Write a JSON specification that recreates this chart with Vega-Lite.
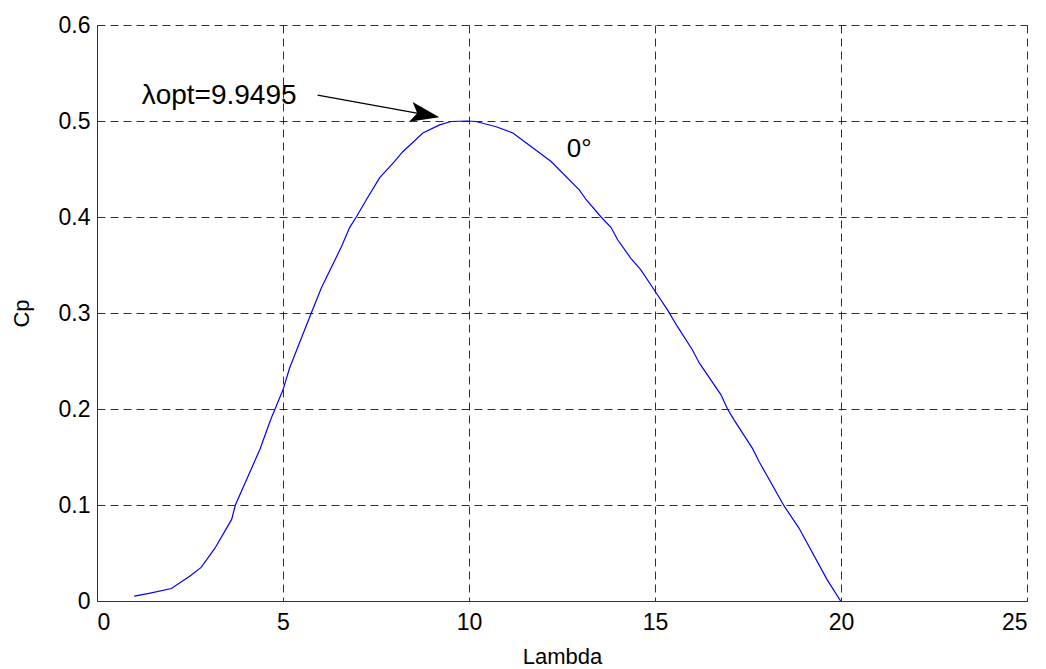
{
  "$schema": "https://vega.github.io/schema/vega-lite/v6.json",
  "width": 930,
  "height": 576,
  "autosize": {"type": "none"},
  "padding": {"left": 97, "top": 25, "right": 19, "bottom": 68},
  "background": "white",
  "config": {
    "view": {"stroke": null},
    "font": "Liberation Sans",
    "axis": {
      "grid": true,
      "gridColor": "#1a1a1a",
      "gridDash": [8, 5],
      "gridWidth": 1,
      "gridOpacity": 0.9,
      "domainColor": "#333333",
      "domainWidth": 1,
      "tickColor": "#333333",
      "tickSize": 0,
      "labelFont": "Liberation Sans",
      "labelFontSize": 23,
      "labelColor": "black",
      "titleFont": "Liberation Sans",
      "titleFontSize": 22,
      "titleFontWeight": "normal",
      "titleColor": "black"
    }
  },
  "layer": [
    {
      "data": {
        "values": [
          {"Lambda": 1.0, "Cp": 0.005},
          {"Lambda": 1.4, "Cp": 0.008},
          {"Lambda": 2.0, "Cp": 0.013},
          {"Lambda": 2.5, "Cp": 0.026},
          {"Lambda": 2.8, "Cp": 0.035},
          {"Lambda": 3.17, "Cp": 0.055},
          {"Lambda": 3.62, "Cp": 0.085},
          {"Lambda": 3.72, "Cp": 0.1},
          {"Lambda": 4.38, "Cp": 0.158},
          {"Lambda": 4.67, "Cp": 0.189},
          {"Lambda": 5.0, "Cp": 0.22},
          {"Lambda": 5.18, "Cp": 0.243},
          {"Lambda": 5.76, "Cp": 0.3},
          {"Lambda": 6.03, "Cp": 0.326},
          {"Lambda": 6.57, "Cp": 0.369},
          {"Lambda": 6.79, "Cp": 0.389},
          {"Lambda": 6.97, "Cp": 0.4},
          {"Lambda": 7.24, "Cp": 0.418},
          {"Lambda": 7.6, "Cp": 0.441},
          {"Lambda": 8.0, "Cp": 0.458},
          {"Lambda": 8.22, "Cp": 0.468},
          {"Lambda": 8.76, "Cp": 0.4875},
          {"Lambda": 9.21, "Cp": 0.496},
          {"Lambda": 9.52, "Cp": 0.4995},
          {"Lambda": 9.95, "Cp": 0.5},
          {"Lambda": 10.19, "Cp": 0.4995},
          {"Lambda": 10.73, "Cp": 0.494},
          {"Lambda": 11.18, "Cp": 0.4875},
          {"Lambda": 11.54, "Cp": 0.477},
          {"Lambda": 12.2, "Cp": 0.458},
          {"Lambda": 12.97, "Cp": 0.428},
          {"Lambda": 13.15, "Cp": 0.418},
          {"Lambda": 13.55, "Cp": 0.4},
          {"Lambda": 13.82, "Cp": 0.389},
          {"Lambda": 14.0, "Cp": 0.376},
          {"Lambda": 14.35, "Cp": 0.357},
          {"Lambda": 14.62, "Cp": 0.345},
          {"Lambda": 14.98, "Cp": 0.324},
          {"Lambda": 15.34, "Cp": 0.303},
          {"Lambda": 15.6, "Cp": 0.286},
          {"Lambda": 16.0, "Cp": 0.262},
          {"Lambda": 16.19, "Cp": 0.248},
          {"Lambda": 16.77, "Cp": 0.215},
          {"Lambda": 16.95, "Cp": 0.2},
          {"Lambda": 17.12, "Cp": 0.189},
          {"Lambda": 17.62, "Cp": 0.159},
          {"Lambda": 17.8, "Cp": 0.145},
          {"Lambda": 18.47, "Cp": 0.099},
          {"Lambda": 18.87, "Cp": 0.076},
          {"Lambda": 19.63, "Cp": 0.022},
          {"Lambda": 19.99, "Cp": 0.0}
        ]
      },
      "mark": {"type": "line", "color": "#0000FF", "strokeWidth": 1.2, "clip": true},
      "encoding": {
        "x": {
          "field": "Lambda",
          "type": "quantitative",
          "scale": {"domain": [0, 25], "nice": false, "zero": false},
          "axis": {
            "title": "Lambda",
            "values": [0, 5, 10, 15, 20, 25],
            "format": "d",
            "labelPadding": 10,
            "titleY": 62,
            "titleBaseline": "alphabetic"
          }
        },
        "y": {
          "field": "Cp",
          "type": "quantitative",
          "scale": {"domain": [0, 0.6], "nice": false, "zero": false},
          "axis": {
            "title": "Cp",
            "values": [0, 0.1, 0.2, 0.3, 0.4, 0.5, 0.6],
            "format": ".1~f",
            "labelPadding": 7,
            "titleX": -76,
            "titleY": 288,
            "titleAngle": -90,
            "titleBaseline": "middle",
            "titleAlign": "center"
          }
        }
      }
    },
    {
      "data": {"values": [{}]},
      "mark": {"type": "rule", "color": "black", "strokeWidth": 1.2},
      "encoding": {
        "x": {"datum": 5.93, "type": "quantitative"},
        "y": {"datum": 0.527, "type": "quantitative"},
        "x2": {"datum": 8.82},
        "y2": {"datum": 0.5067}
      }
    },
    {
      "data": {"values": [{}]},
      "mark": {
        "type": "point",
        "shape": "M1,0 L-1,-0.69 L-0.55,0 L-1,0.69 Z",
        "filled": true,
        "color": "black",
        "opacity": 1,
        "size": 841,
        "angle": 10.4
      },
      "encoding": {
        "x": {"datum": 8.82, "type": "quantitative"},
        "y": {"datum": 0.5067, "type": "quantitative"}
      }
    },
    {
      "data": {"values": [{}]},
      "mark": {
        "type": "text",
        "text": "λopt=9.9495",
        "font": "Liberation Sans",
        "fontSize": 28,
        "align": "left",
        "baseline": "alphabetic",
        "color": "black"
      },
      "encoding": {
        "x": {"datum": 1.2, "type": "quantitative"},
        "y": {"datum": 0.518, "type": "quantitative"}
      }
    },
    {
      "data": {"values": [{}]},
      "mark": {
        "type": "text",
        "text": "0°",
        "font": "Liberation Sans",
        "fontSize": 26,
        "align": "left",
        "baseline": "alphabetic",
        "color": "black"
      },
      "encoding": {
        "x": {"datum": 12.63, "type": "quantitative"},
        "y": {"datum": 0.463, "type": "quantitative"}
      }
    }
  ]
}
